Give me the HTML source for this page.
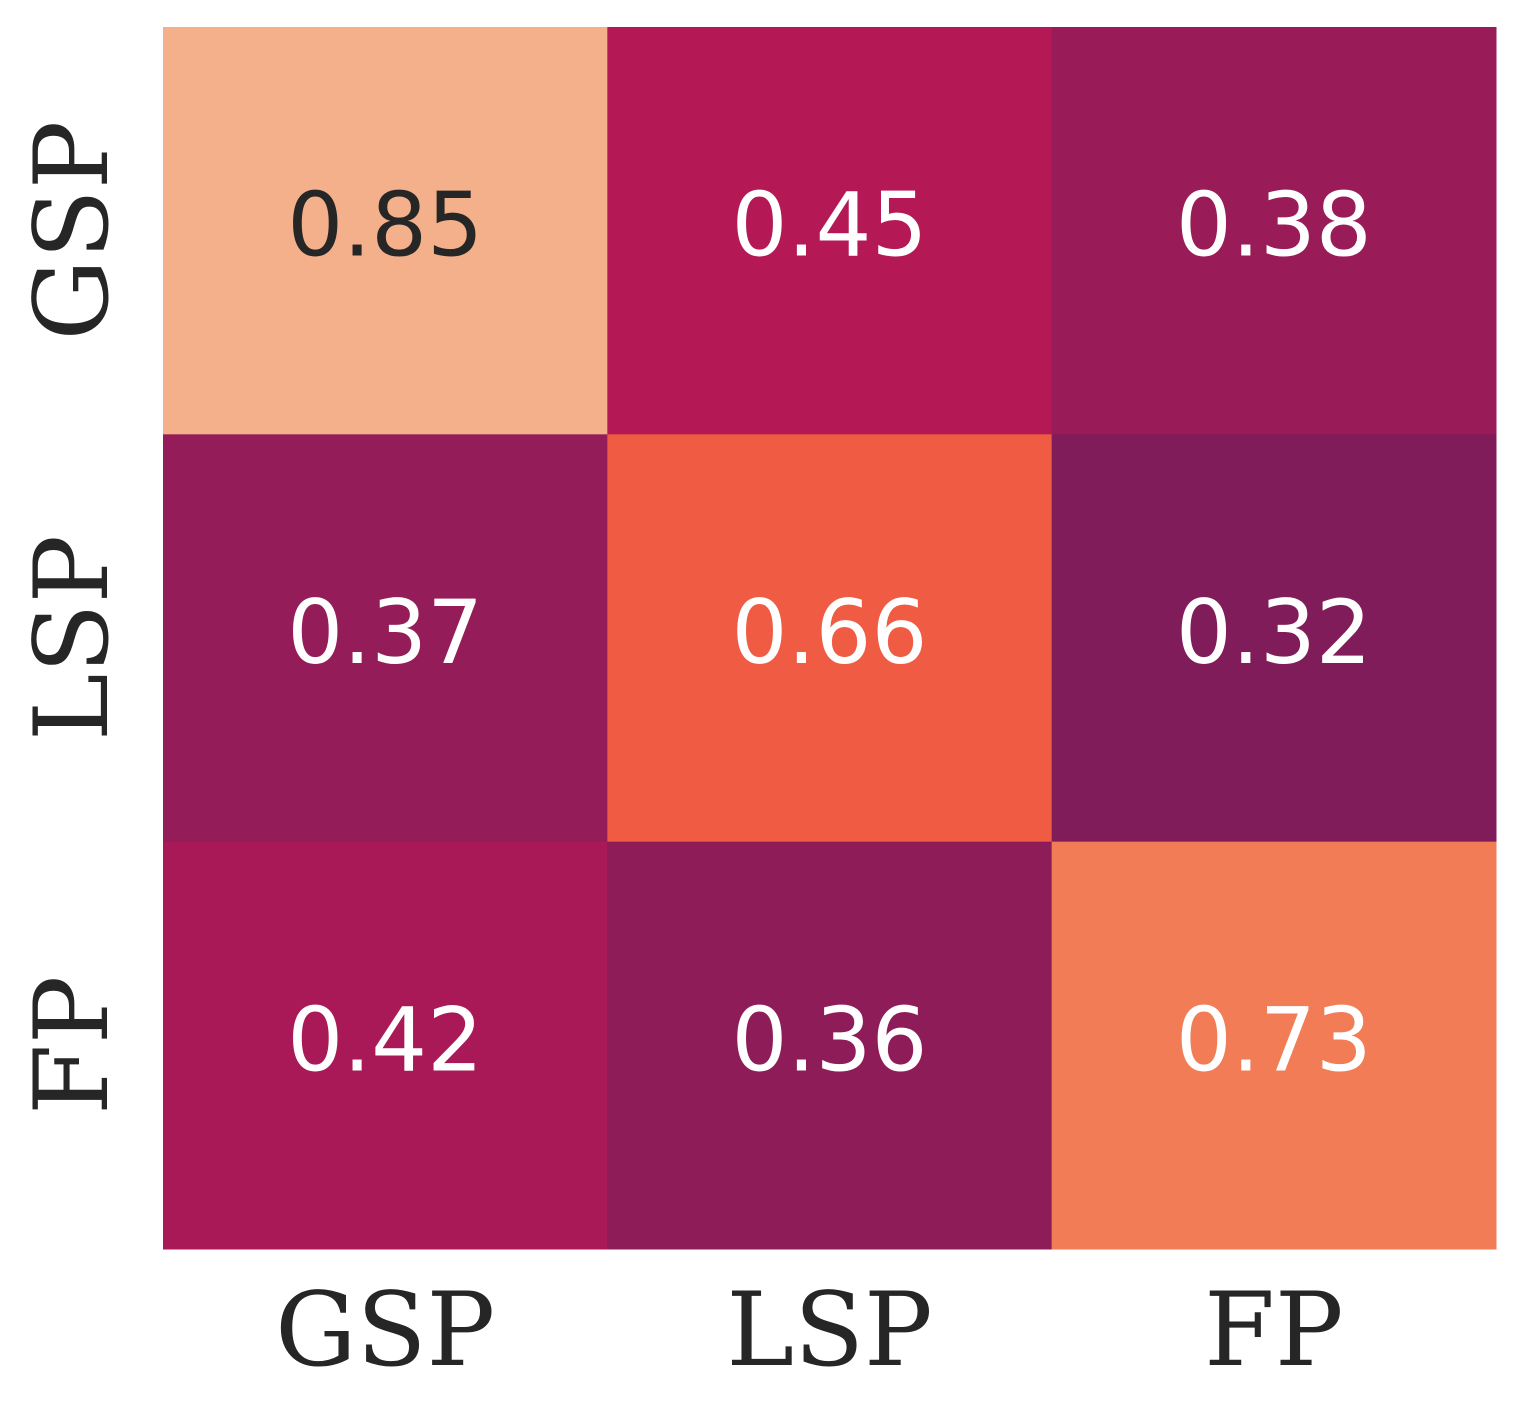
<!DOCTYPE html>
<html><head><meta charset="utf-8"><style>
html,body{margin:0;padding:0;background:#fff;}
svg{display:block;}
</style></head><body>
<svg id="chart" width="1523" height="1413" viewBox="0 0 1523 1413" xmlns="http://www.w3.org/2000/svg">
<g id="cells"></g>
<g id="xticks"></g>
<g id="yticks"></g>
</svg>
<script>
const xCategories = ["GSP", "LSP", "FP"];
const yCategories = ["GSP", "LSP", "FP"];
const row0 = [0.85, 0.45, 0.38];
const row1 = [0.37, 0.66, 0.32];
const row2 = [0.42, 0.36, 0.73];
const rows = [row0, row1, row2];

const stopVals = [0, 0.2, 0.32, 0.36, 0.38, 0.42, 0.45, 0.66, 0.73, 0.85, 1];
const stopCols = ["#03051a","#4c1d4b","#801c59","#8e1c58","#991b57","#a91957","#b51955","#f05c43","#f27c55","#f4b08a","#faebdd"];

const X0 = 163, X1 = 1496, Y0 = 27, Y1 = 1249;
const cw = (X1 - X0) / xCategories.length;
const ch = (Y1 - Y0) / yCategories.length;
function xPos(i){ return X0 + i * cw; }
function yPos(j){ return Y0 + j * ch; }
function hex(c){ return [1,3,5].map(k=>parseInt(c.substr(k,2),16)); }
function color(v){
  for (let k=0;k<stopVals.length-1;k++){
    if (v<=stopVals[k+1]){
      const t=(v-stopVals[k])/(stopVals[k+1]-stopVals[k]);
      const a=hex(stopCols[k]), b=hex(stopCols[k+1]);
      return "rgb("+a.map((x,i)=>Math.round(x+(b[i]-x)*t)).join(",")+")";
    }
  }
  return stopCols[stopCols.length-1];
}
const NS="http://www.w3.org/2000/svg";
const cells=document.getElementById("cells");
rows.forEach((row,j)=>{
  row.forEach((v,i)=>{
    const r=document.createElementNS(NS,"rect");
    r.setAttribute("x",xPos(i)); r.setAttribute("y",yPos(j));
    r.setAttribute("width",cw+0.5); r.setAttribute("height",ch+0.5);
    r.setAttribute("fill",color(v));
    
    
    cells.appendChild(r);
    const t=document.createElementNS(NS,"text");
    t.setAttribute("x",xPos(i)+cw/2); t.setAttribute("y",yPos(j)+ch/2+25);
    t.setAttribute("text-anchor","middle");
    t.setAttribute("font-family","'DejaVu Sans', sans-serif");
    t.setAttribute("font-size","88");
    t.setAttribute("fill", v>0.75 ? "#262626" : "#ffffff");
    t.textContent=v.toFixed(2);
    
    
    cells.appendChild(t);
  });
});
const xg=document.getElementById("xticks");
xCategories.forEach((c,i)=>{
  const t=document.createElementNS(NS,"text");
  t.setAttribute("x",xPos(i)+cw/2); t.setAttribute("y",1365);
  t.setAttribute("text-anchor","middle");
  t.setAttribute("font-family","'DejaVu Serif', serif");
  t.setAttribute("font-size","102");
  t.setAttribute("fill","#262626");
  t.textContent=c;
  
  
  xg.appendChild(t);
});
const yg=document.getElementById("yticks");
yCategories.forEach((c,j)=>{
  const t=document.createElementNS(NS,"text");
  const cy=yPos(j)+ch/2;
  t.setAttribute("transform","translate(107,"+cy+") rotate(-90)");
  t.setAttribute("text-anchor","middle");
  t.setAttribute("font-family","'DejaVu Serif', serif");
  t.setAttribute("font-size","102");
  t.setAttribute("fill","#262626");
  t.textContent=c;
  
  
  yg.appendChild(t);
});
</script>
</body></html>
